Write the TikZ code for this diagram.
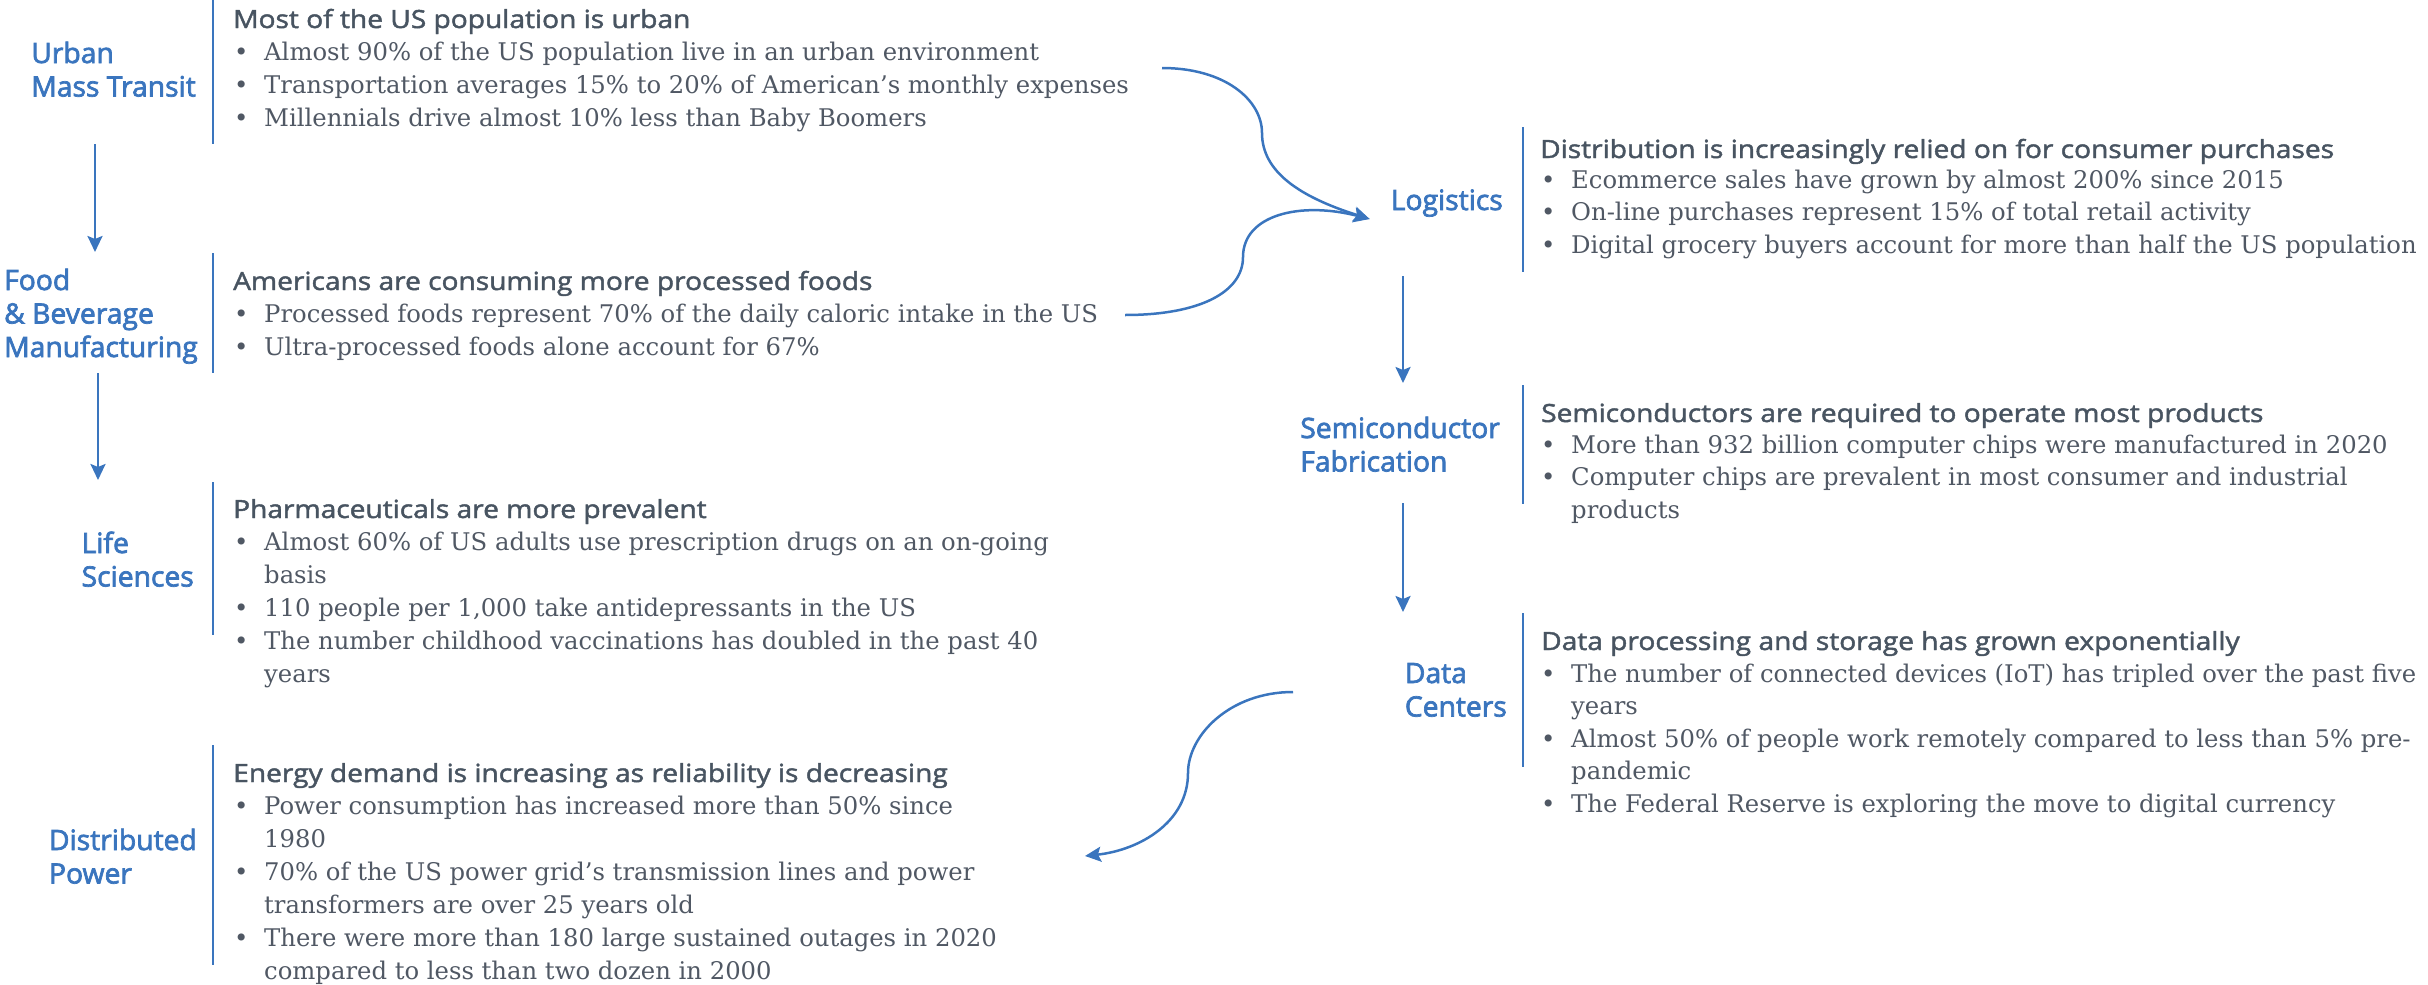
\documentclass[tikz,border=0pt]{standalone}
\usepackage{fontspec}
\usetikzlibrary{arrows.meta}
\newfontfamily\labfont[FakeBold=2.5,FakeStretch=1.01]{Open Sans}
\newfontfamily\headfont[FakeBold=1.8,FakeStretch=1.125]{Open Sans}
\newfontfamily\bodyfont{DejaVu Serif}
\definecolor{lblue}{RGB}{58,117,190}
\definecolor{hgray}{RGB}{72,84,97}
\definecolor{bgray}{RGB}{80,88,100}
\newcommand{\bu}{\makebox[30pt][l]{\textbullet}}
\newcommand{\ind}{\hspace*{30pt}}
\begin{document}
\begin{tikzpicture}[x=1pt,y=-1pt,
  lab/.style={font=\labfont\fontsize{28}{33.5}\selectfont, text=lblue, inner sep=0pt, anchor=base east},
  head/.style={font=\headfont\fontsize{25}{33}\selectfont, text=hgray, inner sep=0pt, anchor=base west},
  body/.style={font=\bodyfont\fontsize{24.3}{33}\selectfont, text=bgray, inner sep=0pt, anchor=base west},
  bodyr/.style={body, font=\bodyfont\fontsize{24.3}{32.6}\selectfont},
  sepline/.style={draw=lblue, line width=1.5pt},
  arr/.style={draw=lblue, line width=2.5pt, -{Stealth[length=16pt,width=15pt,inset=3pt]}}]
\useasboundingbox (0,0) rectangle (2428,985);

% labels
\node[lab] (urban) at (196,63) {\begin{tabular}[t]{@{}l@{}}Urban\\Mass Transit\end{tabular}};
\node[lab] (food) at (198,290) {\begin{tabular}[t]{@{}l@{}}Food\\\& Beverage\\Manufacturing\end{tabular}};
\node[lab] (life) at (194,553) {\begin{tabular}[t]{@{}l@{}}Life\\Sciences\end{tabular}};
\node[lab] (dist) at (197,850) {\begin{tabular}[t]{@{}l@{}}Distributed\\Power\end{tabular}};
\node[lab] (logi) at (1503,210) {Logistics};
\node[lab] (semi) at (1500,438) {\begin{tabular}[t]{@{}l@{}}Semiconductor\\Fabrication\end{tabular}};
\node[lab] (data) at (1507,683) {\begin{tabular}[t]{@{}l@{}}Data\\Centers\end{tabular}};

% separators
\draw[sepline] (213,0) -- (213,144);
\draw[sepline] (213,253) -- (213,373);
\draw[sepline] (213,482) -- (213,635);
\draw[sepline] (213,745) -- (213,965);
\draw[sepline] (1523,127) -- (1523,272);
\draw[sepline] (1523,385) -- (1523,504);
\draw[sepline] (1523,613) -- (1523,767);

% left texts
\node[head] (uh) at (233,28) {Most of the US population is urban};
\node[body] (ub) at (234,60) {\begin{tabular}[t]{@{}l@{}}
\bu Almost 90\% of the US population live in an urban environment\\
\bu Transportation averages 15\% to 20\% of American’s monthly expenses\\
\bu Millennials drive almost 10\% less than Baby Boomers\end{tabular}};

\node[head] (fh) at (233,290) {Americans are consuming more processed foods};
\node[body] (fb) at (234,322) {\begin{tabular}[t]{@{}l@{}}
\bu Processed foods represent 70\% of the daily caloric intake in the US\\
\bu Ultra-processed foods alone account for 67\%\end{tabular}};

\node[head] (lh) at (233,518) {Pharmaceuticals are more prevalent};
\node[body] (lb) at (234,550) {\begin{tabular}[t]{@{}l@{}}
\bu Almost 60\% of US adults use prescription drugs on an on-going\\
\ind basis\\
\bu 110 people per 1,000 take antidepressants in the US\\
\bu The number childhood vaccinations has doubled in the past 40\\
\ind years\end{tabular}};

\node[head] (dh) at (233,782) {Energy demand is increasing as reliability is decreasing};
\node[body] (db) at (234,814) {\begin{tabular}[t]{@{}l@{}}
\bu Power consumption has increased more than 50\% since\\
\ind 1980\\
\bu 70\% of the US power grid’s transmission lines and power\\
\ind transformers are over 25 years old\\
\bu There were more than 180 large sustained outages in 2020\\
\ind compared to less than two dozen in 2000\end{tabular}};

% right texts
\node[head] (gh) at (1540,158) {Distribution is increasingly relied on for consumer purchases};
\node[bodyr] (gb) at (1541,188) {\begin{tabular}[t]{@{}l@{}}
\bu Ecommerce sales have grown by almost 200\% since 2015\\
\bu On-line purchases represent 15\% of total retail activity\\
\bu Digital grocery buyers account for more than half the US population\end{tabular}};

\node[head] (sh) at (1541,422) {Semiconductors are required to operate most products};
\node[bodyr] (sb) at (1541,453) {\begin{tabular}[t]{@{}l@{}}
\bu More than 932 billion computer chips were manufactured in 2020\\
\bu Computer chips are prevalent in most consumer and industrial\\
\ind products\end{tabular}};

\node[head] (ch) at (1541,650) {Data processing and storage has grown exponentially};
\node[bodyr] (cb) at (1541,682) {\begin{tabular}[t]{@{}l@{}}
\bu The number of connected devices (IoT) has tripled over the past five\\
\ind years\\
\bu Almost 50\% of people work remotely compared to less than 5\% pre-\\
\ind pandemic\\
\bu The Federal Reserve is exploring the move to digital currency\end{tabular}};

% connector ends
\coordinate (a1s) at (95,144);  \coordinate (a1e) at (95,252);
\coordinate (a2s) at (98,373);  \coordinate (a2e) at (98,480);
\coordinate (a3s) at (1403,276); \coordinate (a3e) at (1403,383);
\coordinate (a4s) at (1403,503); \coordinate (a4e) at (1403,612);
\coordinate (c1s) at (1162,68);
\coordinate (c2s) at (1125,315);
\coordinate (c3s) at (1293,692);
\coordinate (c3e) at (1085,856);

\draw[arr] (a1s) -- (a1e);
\draw[arr] (a2s) -- (a2e);
\draw[arr] (a3s) -- (a3e);
\draw[arr] (a4s) -- (a4e);
\draw[arr] (c1s) .. controls (1225,68) and (1262,100) .. (1262,133)
  .. controls (1262,172) and (1300,197) .. ([xshift=-21pt,yshift=-9pt]logi.base west);
\draw[arr] (c2s) .. controls (1200,315) and (1243,292) .. (1243,257)
  .. controls (1243,215) and (1300,201) .. ([xshift=-21pt,yshift=-9pt]logi.base west);
\draw[arr] (c3s) .. controls (1230,692) and (1188,735) .. (1188,773)
  .. controls (1188,822) and (1140,850) .. (c3e);
\end{tikzpicture}
\end{document}
